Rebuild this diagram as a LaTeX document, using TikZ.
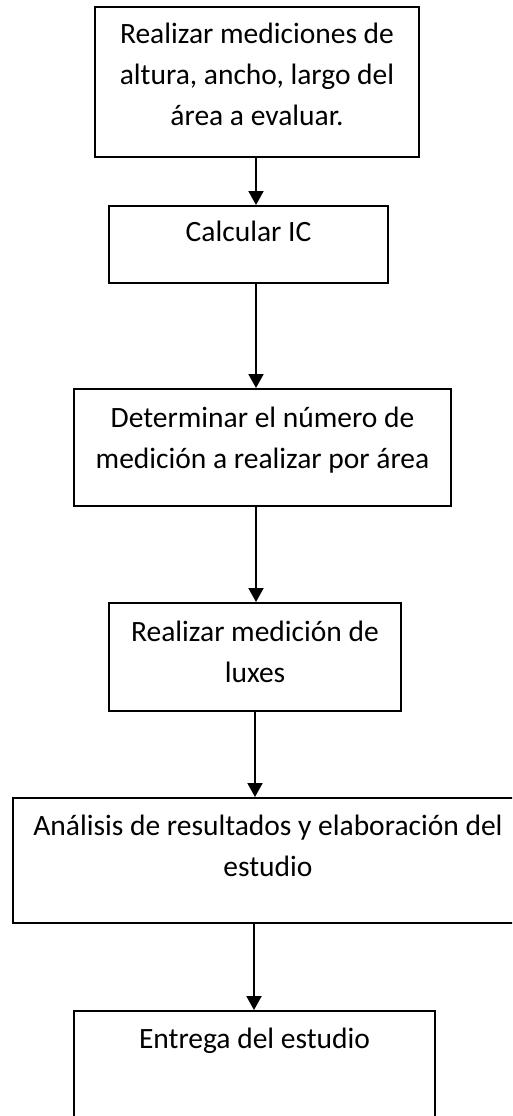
\documentclass[tikz,border=0pt]{standalone}
\usepackage{fontspec}
\setmainfont{Carlito}
\usepackage{tikz}
\usetikzlibrary{arrows.meta}
\usetikzlibrary{shapes,arrows,positioning}
\tikzset{flow-line/.style={line width=2pt}}
\tikzset{>={Triangle[length=14pt, width=15pt]}}
\tikzset{flow-box/.style={draw, line width=2pt, inner sep=0, rectangle}}
\tikzset{flow-text/.style={inner sep=0, align=center, font=\fontsize{29.5}{40.8}\selectfont}}

\begin{document}
\begin{tikzpicture}[x=1pt, y=-1pt]
            \useasboundingbox (0,0) rectangle (512,1116);
            \clip (0,0) rectangle (512,1116);
            \coordinate (axis) at (256,0);

            \node[flow-box, minimum width=324pt, minimum height=150pt] (box1) at (257,82) {};
            \node[flow-box, minimum width=279pt, minimum height=77pt] (box2) at (248.5,244.5) {};
            \node[flow-box, minimum width=377pt, minimum height=117pt] (box3) at (262.5,447.5) {};
            \node[flow-box, minimum width=292pt, minimum height=108pt] (box4) at (255,657) {};
            \node[flow-box, minimum width=510pt, minimum height=125pt] (box5) at (268,860.5) {};
            \node[flow-box, minimum width=361pt, minimum height=140pt] (box6) at (254.5,1081) {};

            \node[flow-text, below=17pt of box1.north] (text1) {Realizar mediciones de\\altura, ancho, largo del\\área a evaluar.};
            \node[flow-text, below=16pt of box2.north] (text2) {Calcular IC};
            \node[flow-text, below=19pt of box3.north] (text3) {Determinar el número de\\medición a realizar por área};
            \node[flow-text, below=19pt of box4.north] (text4) {Realizar medición de\\luxes};
            \node[flow-text, below=18pt of box5.north] (text5) {Análisis de resultados y elaboración del\\estudio};
            \node[flow-text, below=18pt of box6.north] (text6) {Entrega del estudio};

            \draw[->, flow-line] (box1.south -| axis) -- (box2.north -| axis);
            \draw[->, flow-line] (box2.south -| axis) -- (box3.north -| axis);
            \draw[->, flow-line] (box3.south -| axis) -- (box4.north -| axis);
            \draw[->, flow-line] ([xshift=-1pt]box4.south -| axis) -- ([xshift=-1pt]box5.north -| axis);
            \draw[->, flow-line] ([xshift=-2pt]box5.south -| axis) -- ([xshift=-2pt]box6.north -| axis);

        \end{tikzpicture}
\end{document}
